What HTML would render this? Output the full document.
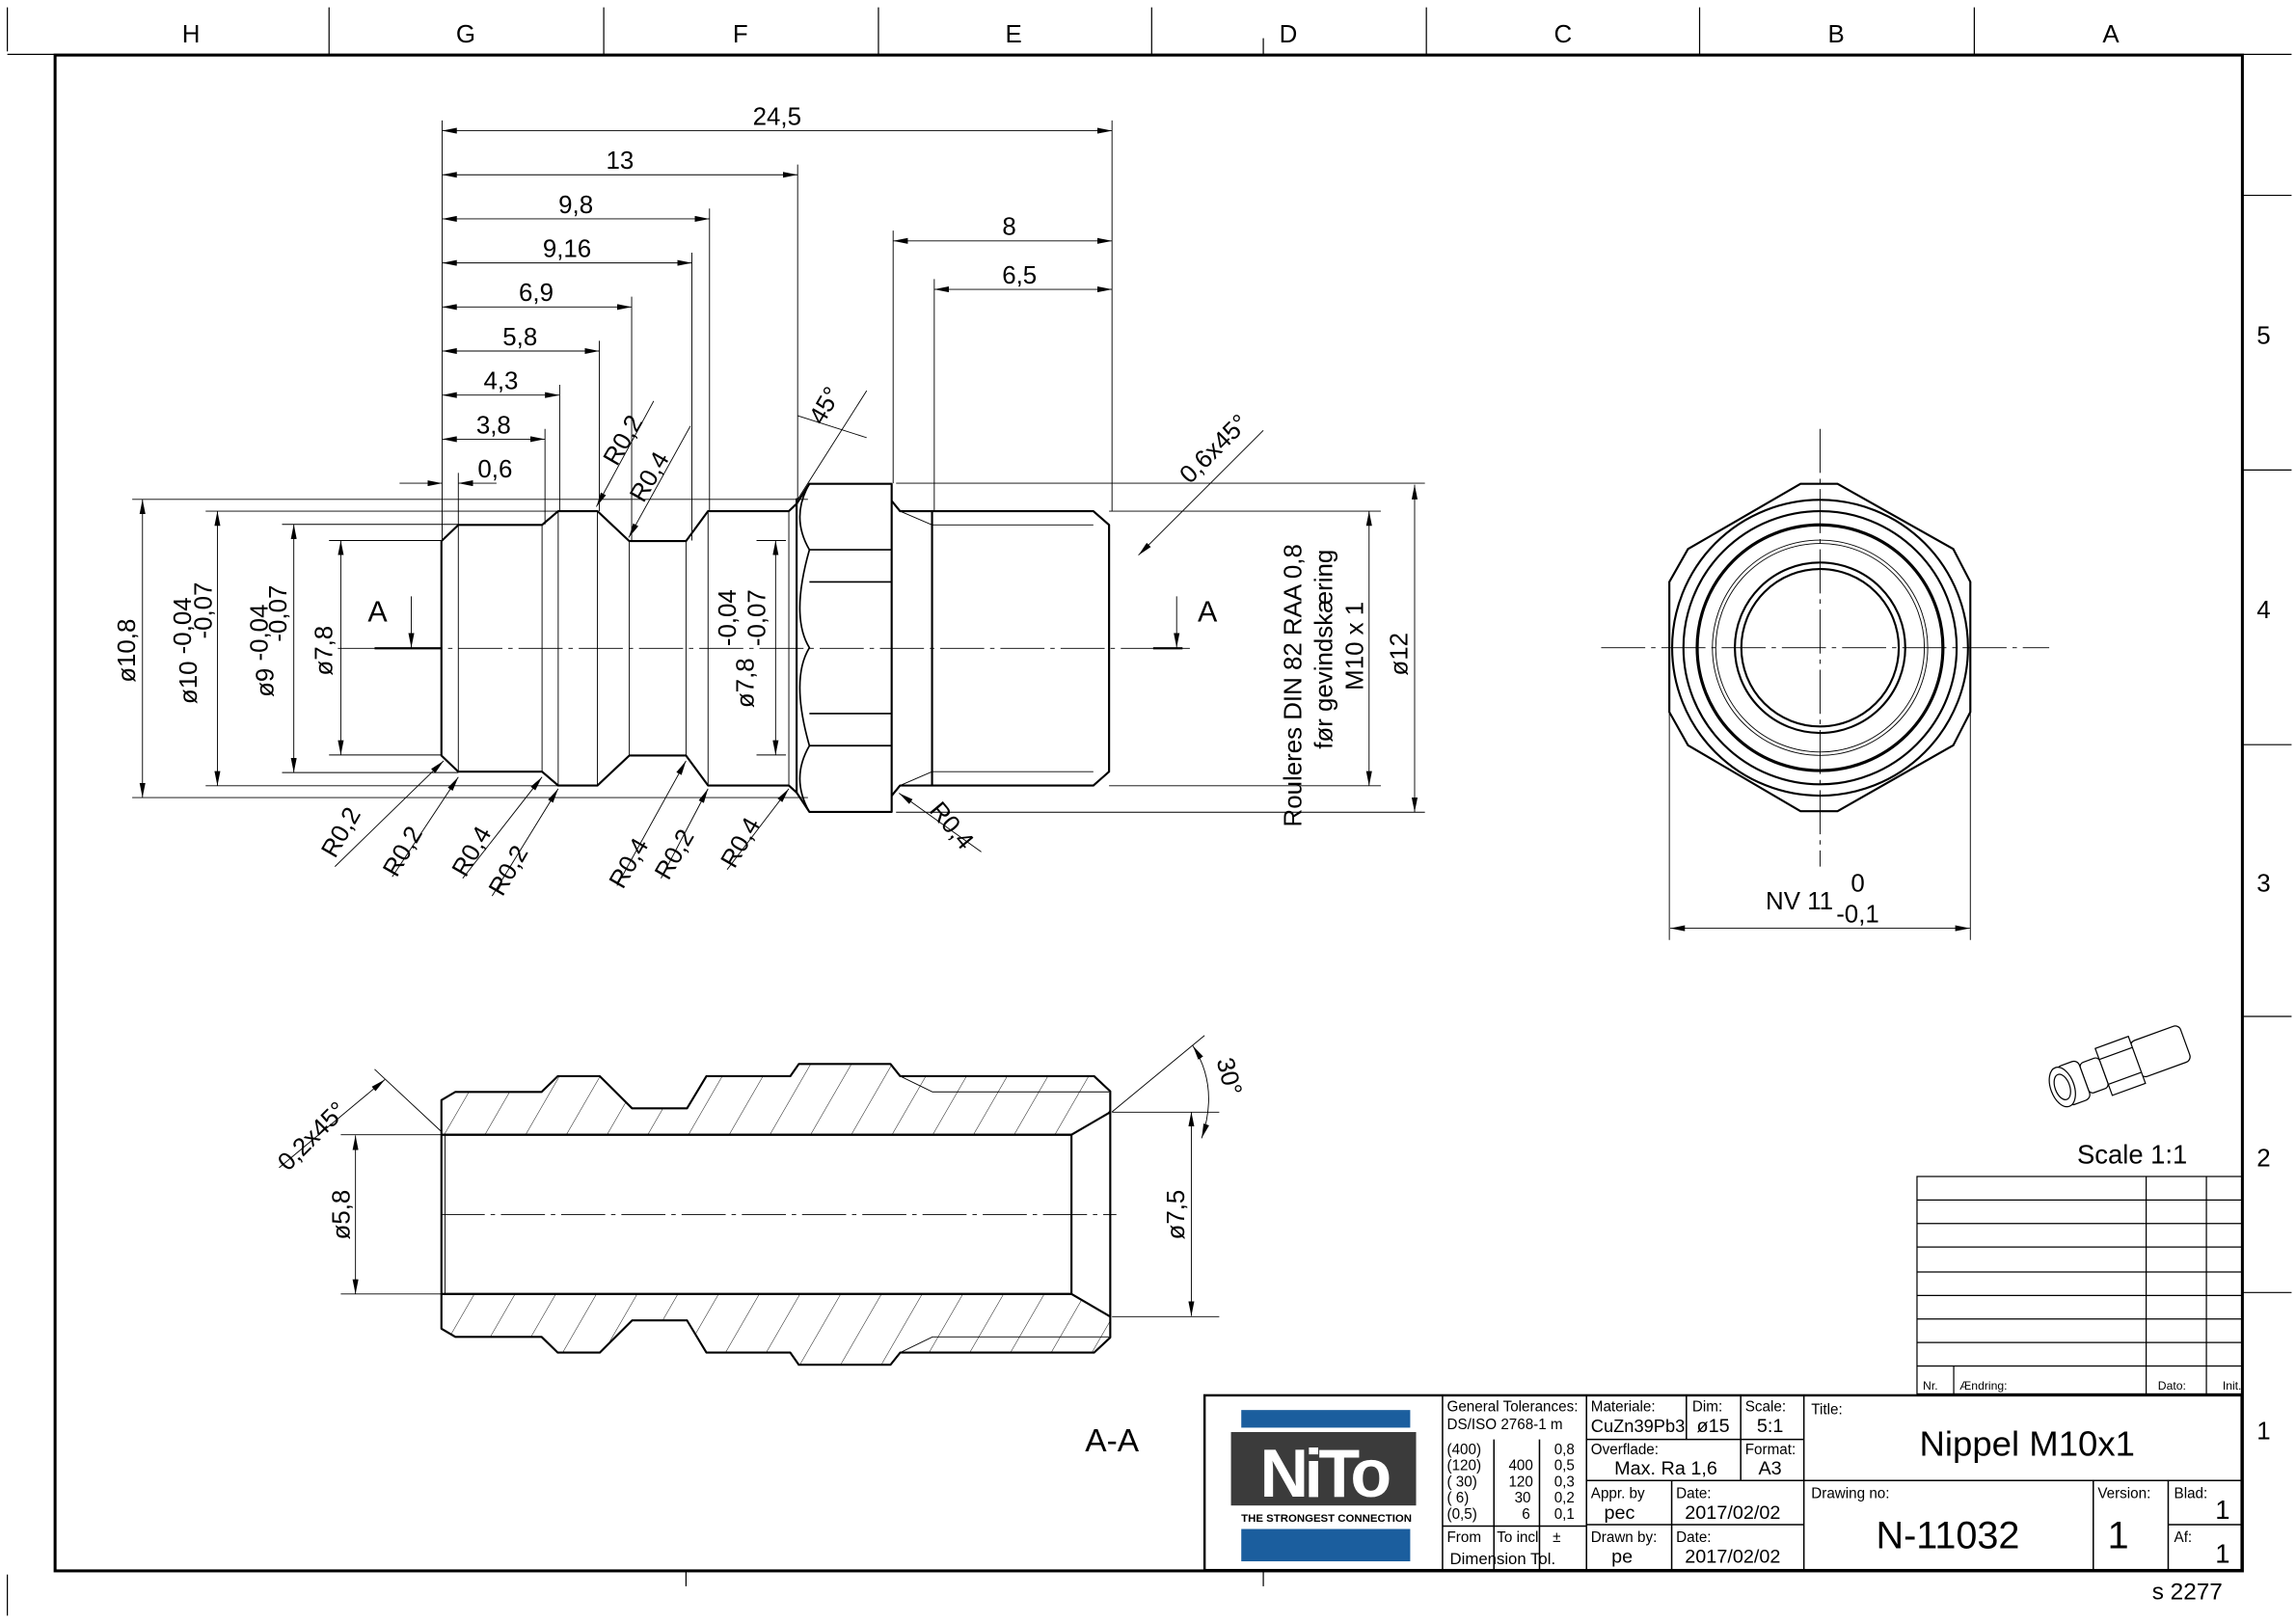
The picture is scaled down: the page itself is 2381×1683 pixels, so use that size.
<!DOCTYPE html>
<html><head><meta charset="utf-8"><style>
html,body{margin:0;padding:0;background:#fff;}
svg{display:block;}
text{font-family:"Liberation Sans",sans-serif;fill:#000;font-weight:normal;}
</style></head><body>
<svg width="2381" height="1683" viewBox="0 0 1563 1105" preserveAspectRatio="none" xmlns="http://www.w3.org/2000/svg">
<defs>
<marker id="a" viewBox="0 0 10 4" refX="10" refY="2" markerWidth="10" markerHeight="4" markerUnits="userSpaceOnUse" orient="auto-start-reverse"><path d="M0,0L10,2L0,4Z" fill="#000"/></marker>
<pattern id="h" patternUnits="userSpaceOnUse" width="24" height="24" patternTransform="rotate(30)"><line x1="0" y1="0" x2="0" y2="24" stroke="#000" stroke-width="0.6"/></pattern>
</defs>
<rect width="1563" height="1105" fill="#fff"/>
<g stroke="#000" fill="none">
<rect x="37.5" y="37.5" width="1489" height="1032" stroke-width="2"/>
<line x1="5" y1="37" x2="1560" y2="37" stroke-width="0.8"/>
<line x1="5" y1="5" x2="5" y2="35" stroke-width="0.8"/>
<line x1="5" y1="1072" x2="5" y2="1100" stroke-width="0.8"/>
<g stroke-width="0.8">
<line x1="224" y1="5" x2="224" y2="37"/><line x1="411" y1="5" x2="411" y2="37"/><line x1="598" y1="5" x2="598" y2="37"/><line x1="784" y1="5" x2="784" y2="37"/><line x1="971" y1="5" x2="971" y2="37"/><line x1="1157" y1="5" x2="1157" y2="37"/><line x1="1344" y1="5" x2="1344" y2="37"/>
<line x1="860" y1="26" x2="860" y2="37"/>
<line x1="1527" y1="133" x2="1560" y2="133"/><line x1="1527" y1="320" x2="1560" y2="320"/><line x1="1527" y1="507" x2="1560" y2="507"/><line x1="1527" y1="692" x2="1560" y2="692"/><line x1="1527" y1="880" x2="1560" y2="880"/>
<line x1="467" y1="1070" x2="467" y2="1080"/><line x1="860" y1="1070" x2="860" y2="1080"/>
</g></g>
<g font-size="17">
<text x="130" y="29" text-anchor="middle">H</text><text x="317" y="29" text-anchor="middle">G</text><text x="504" y="29" text-anchor="middle">F</text><text x="690" y="29" text-anchor="middle">E</text><text x="877" y="29" text-anchor="middle">D</text><text x="1064" y="29" text-anchor="middle">C</text><text x="1250" y="29" text-anchor="middle">B</text><text x="1437" y="29" text-anchor="middle">A</text>
<text x="1541" y="234" text-anchor="middle">5</text><text x="1541" y="421" text-anchor="middle">4</text><text x="1541" y="607" text-anchor="middle">3</text><text x="1541" y="794" text-anchor="middle">2</text><text x="1541" y="980" text-anchor="middle">1</text>
<text x="1465" y="1089" font-size="16" fill="#555">s 2277</text>
</g>

<g stroke="#000" fill="none" stroke-width="1.4" stroke-linejoin="round">
<path d="M300.5,368.4 L312,357.4 L369,357.4 L380,348 L406.7,348 L428.4,368.4 L467,368.4 L482,348 L537,348 L542.3,343 L542.3,339.8 L542.3,539.6 L537,534.8 L482,534.8 L467,514.4 L428.4,514.4 L406.7,534.8 L380,534.8 L369,525.4 L312,525.4 L300.5,514.4 Z"/>
<path d="M542.3,343 L551,329.4 L607,329.4 L607,552.8 L551,552.8 L542.3,539.6"/>
<path d="M551,329.4 Q538,352 551,374.3 Q538,420 551,441 Q538,462 551,507.7 Q538,530 551,552.8" stroke-width="1.1"/>
<path d="M551,374.3H607M551,396.2H607M551,485.8H607M551,507.7H607" stroke-width="1.1"/>
<path d="M607,341 L612.7,348 L744.3,348 L755,357.4 L755,525.4 L744.3,534.8 L612.7,534.8 L607,541.8"/>
<path d="M634.5,348V534.8"/>
</g>
<g stroke="#000" fill="none" stroke-width="0.6">
<path d="M312,357.4V525.4M369,357.4V525.4M380,348V534.8M406.7,348V534.8M428.4,368.4V514.4M467,368.4V514.4M482,348V534.8M537,348V534.8"/>
<path d="M612.7,348L634.5,357.4H744.3M612.7,534.8L634.5,525.4H744.3"/>
<path d="M255,441.4H300" stroke-width="1.5"/>
<path d="M785,441.4H805" stroke-width="1.5"/>
<path d="M230,441.4H810" stroke-dasharray="30,4,3,4"/>
<g marker-start="url(#a)" marker-end="url(#a)">
<line x1="301" y1="89" x2="757" y2="89"/><line x1="301" y1="119" x2="543" y2="119"/><line x1="301" y1="149" x2="483" y2="149"/><line x1="301" y1="179" x2="471" y2="179"/><line x1="301" y1="209" x2="430" y2="209"/><line x1="301" y1="239" x2="408" y2="239"/><line x1="301" y1="269" x2="381" y2="269"/><line x1="301" y1="299" x2="371" y2="299"/>
<line x1="608" y1="164" x2="757" y2="164"/><line x1="636" y1="197" x2="757" y2="197"/>
<line x1="97" y1="340" x2="97" y2="543"/><line x1="148" y1="348" x2="148" y2="535"/><line x1="200" y1="357" x2="200" y2="526"/><line x1="232" y1="368" x2="232" y2="514"/><line x1="528" y1="368" x2="528" y2="514"/><line x1="932" y1="348" x2="932" y2="535"/><line x1="963" y1="330" x2="963" y2="553"/>
</g>
<line x1="272" y1="329" x2="301" y2="329" marker-end="url(#a)"/><line x1="338" y1="329" x2="312" y2="329" marker-end="url(#a)"/>
<line x1="280" y1="406" x2="280" y2="441" marker-end="url(#a)"/><line x1="801" y1="406" x2="801" y2="441" marker-end="url(#a)"/>
<path d="M301,82V368M757,82V348M543,112V340M483,142V348M471,172V368M430,202V368M408,232V348M381,262V348M371,292V357M312,322V357M608,157V329M636,190V348"/>
<path d="M90,340H550M140,348H380M192,357H312M224,368H300M90,543H550M140,535H380M192,526H312M224,514H300M515,368H535M515,514H535M610,329H970M755,348H940M755,535H940M610,553H970"/>
<path d="M543,283L590,298M543,340L590,266" />
<line x1="775" y1="378" x2="860" y2="293" marker-start="url(#a)"/>
<line x1="406" y1="345" x2="445" y2="273" marker-start="url(#a)"/><line x1="428" y1="366" x2="470" y2="290" marker-start="url(#a)"/>
<line x1="302" y1="518" x2="228" y2="590" marker-start="url(#a)"/>
<line x1="312" y1="529" x2="267" y2="597" marker-start="url(#a)"/>
<line x1="369" y1="529" x2="315" y2="598" marker-start="url(#a)"/>
<line x1="380" y1="537" x2="335" y2="610" marker-start="url(#a)"/>
<line x1="467" y1="518" x2="420" y2="603" marker-start="url(#a)"/>
<line x1="482" y1="537" x2="450" y2="598" marker-start="url(#a)"/>
<line x1="537" y1="537" x2="495" y2="592" marker-start="url(#a)"/>
<line x1="612" y1="540" x2="668" y2="580" marker-start="url(#a)"/>
</g>
<g font-size="17">
<text x="529" y="85" text-anchor="middle">24,5</text><text x="422" y="115" text-anchor="middle">13</text><text x="392" y="145" text-anchor="middle">9,8</text><text x="386" y="175" text-anchor="middle">9,16</text><text x="365" y="205" text-anchor="middle">6,9</text><text x="354" y="235" text-anchor="middle">5,8</text><text x="341" y="265" text-anchor="middle">4,3</text><text x="336" y="295" text-anchor="middle">3,8</text><text x="337" y="325" text-anchor="middle">0,6</text>
<text x="687" y="160" text-anchor="middle">8</text><text x="694" y="193" text-anchor="middle">6,5</text>
<text x="257" y="423" font-size="20" text-anchor="middle">A</text><text x="822" y="423" font-size="20" text-anchor="middle">A</text>
<text transform="translate(92,443) rotate(-90)" text-anchor="middle">ø10,8</text>
<text transform="translate(134,443) rotate(-90)" text-anchor="middle">ø10 <tspan dy="-4">-0,04</tspan></text>
<text transform="translate(144,443) rotate(-90)" text-anchor="start" dx="8">-0,07</text>
<text transform="translate(186,443) rotate(-90)" text-anchor="middle">ø9 <tspan dy="-4">-0,04</tspan></text>
<text transform="translate(195,443) rotate(-90)" text-anchor="start" dx="6">-0,07</text>
<text transform="translate(226,443) rotate(-90)" text-anchor="middle">ø7,8</text>
<text transform="translate(513,465) rotate(-90)" text-anchor="middle">ø7,8</text>
<text transform="translate(501,440) rotate(-90)">-0,04</text>
<text transform="translate(521,440) rotate(-90)">-0,07</text>
<text transform="translate(886,563) rotate(-90)">Rouleres DIN 82 RAA 0,8</text>
<text transform="translate(907,510) rotate(-90)">før gevindskæring</text>
<text transform="translate(928,470) rotate(-90)">M10 x 1</text>
<text transform="translate(958,460) rotate(-90)">ø12</text>
<text transform="translate(560,290) rotate(-60)">45°</text>
<text transform="translate(810,330) rotate(-45)">0,6x45°</text>
<text transform="translate(420,318) rotate(-60)">R0,2</text>
<text transform="translate(438,343) rotate(-60)">R0,4</text>
<text transform="translate(228,585) rotate(-60)">R0,2</text>
<text transform="translate(270,598) rotate(-60)">R0,2</text>
<text transform="translate(317,598) rotate(-60)">R0,4</text>
<text transform="translate(342,611) rotate(-60)">R0,2</text>
<text transform="translate(424,606) rotate(-60)">R0,4</text>
<text transform="translate(455,600) rotate(-60)">R0,2</text>
<text transform="translate(500,592) rotate(-60)">R0,4</text>
<text transform="translate(632,552) rotate(50)">R0,4</text>
</g>

<g stroke="#000" fill="none" stroke-width="1.4">
<path d="M1136.4,396.2 L1149.1,373.8 L1225.7,329.4 L1250.9,329.4 L1329.7,373.8 L1341.3,396.2 L1341.3,484.8 L1329.7,507.4 L1250.9,552.3 L1225.7,552.3 L1149.1,507.4 L1136.4,484.8 Z"/>
<circle cx="1239" cy="441" r="100.7"/>
<circle cx="1239" cy="441" r="93"/>
<circle cx="1239" cy="441" r="84"/><circle cx="1239" cy="441" r="83" stroke-width="0.8"/>
<circle cx="1239" cy="441" r="73.3" stroke-width="0.6"/><circle cx="1239" cy="441" r="71" stroke-width="0.6"/>
<circle cx="1239" cy="441" r="58"/><circle cx="1239" cy="441" r="53.6"/>
</g>
<g stroke="#000" fill="none" stroke-width="0.6">
<path d="M1090,441H1395M1239,292V590" stroke-dasharray="30,4,3,4"/>
<path d="M1136.4,485V640M1341.3,485V640"/>
<line x1="1137" y1="632" x2="1341" y2="632" marker-start="url(#a)" marker-end="url(#a)"/>
</g>
<g font-size="17"><text x="1202" y="619">NV 11</text><text x="1260" y="607">0</text><text x="1250" y="628">-0,1</text></g>

<g stroke="#000" stroke-width="1.4" stroke-linejoin="round">
<path fill="url(#h)" d="M300.5,772.6 L300.5,749 L310,743.4 L368.7,743.4 L379.7,732.7 L408.3,732.7 L430.3,754.6 L467.7,754.6 L480.9,732.7 L538,732.7 L543.8,724.4 L606.2,724.4 L612.8,732.7 L744.8,732.7 L755.8,743 L755.8,757.2 L729.4,772.6 Z"/>
<path fill="url(#h)" d="M300.5,881 L300.5,904.6 L310,910.2 L368.7,910.2 L379.7,920.9 L408.3,920.9 L430.3,899 L467.7,899 L480.9,920.9 L538,920.9 L543.8,929.2 L606.2,929.2 L612.8,920.9 L744.8,920.9 L755.8,910.6 L755.8,896.4 L729.4,881 Z"/>
<path fill="none" d="M300.5,772.6H729.4V881H300.5ZM755.8,757.2V896.4"/>
</g>
<g stroke="#000" fill="none" stroke-width="0.6">
<path d="M303,772.6V881M612.8,732.7L634.8,743.4H755M612.8,920.9L634.8,910.2H755"/>
<path d="M300,827H760" stroke-dasharray="30,4,3,4"/>
<path d="M232,772.6H300M232,881H300M757,757.2H830M757,896.4H830M300,770L255,728M757,757L820,705"/>
<line x1="242" y1="773" x2="242" y2="881" marker-start="url(#a)" marker-end="url(#a)"/>
<line x1="811" y1="757" x2="811" y2="896" marker-start="url(#a)" marker-end="url(#a)"/>
<line x1="190" y1="795" x2="262" y2="735" marker-end="url(#a)"/>
<path d="M812,712 Q830,740 818,775" marker-start="url(#a)" marker-end="url(#a)"/>
</g>
<g font-size="17">
<text transform="translate(238,827) rotate(-90)" text-anchor="middle">ø5,8</text>
<text transform="translate(806,827) rotate(-90)" text-anchor="middle">ø7,5</text>
<text transform="translate(196,798) rotate(-45)">0,2x45°</text>
<text transform="translate(828,722) rotate(75)">30°</text>
<text x="757" y="988" font-size="22" text-anchor="middle">A-A</text>
</g>

<!-- 3D thumbnail -->
<g stroke="#000" fill="#fff" stroke-width="0.8" transform="rotate(-20 1440 728)">
<rect x="1455" y="714" width="36" height="26" rx="4"/>
<rect x="1432" y="710" width="24" height="34"/>
<path d="M1432,718H1456M1432,736H1456"/>
<rect x="1418" y="716" width="14" height="22" rx="3"/>
<rect x="1402" y="713" width="16" height="28" rx="4"/>
<ellipse cx="1402" cy="727" rx="8" ry="14"/>
<ellipse cx="1402" cy="727" rx="5" ry="9"/>
</g>
<text x="1414" y="792" font-size="18" fill="#222">Scale 1:1</text>

<g stroke="#000" fill="none" stroke-width="0.8">
<rect x="1305" y="801" width="221" height="148"/>
<path d="M1305,817H1526M1305,833H1526M1305,849H1526M1305,866H1526M1305,882H1526M1305,898H1526M1305,914H1526M1305,930H1526"/>
<path d="M1461,801V949M1502,801V949M1330,930V949"/>
</g>
<g font-size="8"><text x="1309" y="946">Nr.</text><text x="1334" y="946">Ændring:</text><text x="1469" y="946">Dato:</text><text x="1513" y="946">Init.</text></g>

<g stroke="#000" fill="none" stroke-width="1">
<rect x="820" y="950" width="706" height="119" stroke-width="1.6"/>
<path d="M982,950V1069M1080,950V1069M1228,950V1069M1148,950V980M1185,950V1008M1080,980H1228M1080,1008H1526M1080,1038H1228M1138,1008V1069M982,1039H1080M1017,980V1069M1048,980V1069M1425,1008V1069M1476,1008V1069M1476,1038H1526"/>
</g>
<rect x="845" y="960" width="115" height="12" fill="#1b5e9e"/>
<rect x="838" y="975" width="126" height="50" fill="#3b3b3b"/>
<text x="901" y="1019" font-size="46" text-anchor="middle" style="fill:#fff;font-weight:bold;letter-spacing:-3px">NiTo</text>
<text x="903" y="1036" font-size="7.5" text-anchor="middle" style="font-weight:bold">THE STRONGEST CONNECTION</text>
<rect x="845" y="1041" width="115" height="22" fill="#1b5e9e"/>
<g font-size="10" fill="#222">
<text x="985" y="961">General Tolerances:</text><text x="985" y="973">DS/ISO 2768-1 m</text>
<text x="1083" y="961">Materiale:</text><text x="1083" y="975" font-size="12">CuZn39Pb3</text>
<text x="1152" y="961">Dim:</text><text x="1155" y="975" font-size="13">ø15</text>
<text x="1188" y="961">Scale:</text><text x="1196" y="975" font-size="13">5:1</text>
<text x="1233" y="963">Title:</text>
<text x="1083" y="990">Overflade:</text><text x="1099" y="1004" font-size="13">Max. Ra 1,6</text>
<text x="1188" y="990">Format:</text><text x="1197" y="1004" font-size="13">A3</text>
<text x="985" y="990">(400)</text><text x="985" y="1001">(120)</text><text x="985" y="1012">( 30)</text><text x="985" y="1023">( 6)</text><text x="985" y="1034">(0,5)</text>
<text x="1027" y="1001">400</text><text x="1027" y="1012">120</text><text x="1031" y="1023">30</text><text x="1036" y="1034">6</text>
<text x="1058" y="990">0,8</text><text x="1058" y="1001">0,5</text><text x="1058" y="1012">0,3</text><text x="1058" y="1023">0,2</text><text x="1058" y="1034">0,1</text>
<text x="985" y="1050">From</text><text x="1019" y="1050">To incl</text><text x="1057" y="1050">±</text>
<text x="987" y="1065" font-size="11">Dimension   Tol.</text>
<text x="1083" y="1020">Appr. by</text><text x="1092" y="1034" font-size="13">pec</text>
<text x="1141" y="1020">Date:</text><text x="1147" y="1034" font-size="13">2017/02/02</text>
<text x="1083" y="1050">Drawn by:</text><text x="1097" y="1064" font-size="13">pe</text>
<text x="1141" y="1050">Date:</text><text x="1147" y="1064" font-size="13">2017/02/02</text>
<text x="1233" y="1020">Drawing no:</text>
<text x="1428" y="1020">Version:</text>
<text x="1480" y="1020">Blad:</text><text x="1480" y="1050">Af:</text>
</g>
<text x="1380" y="991" font-size="24" text-anchor="middle">Nippel M10x1</text>
<text x="1326" y="1054" font-size="26" text-anchor="middle">N-11032</text>
<text x="1442" y="1054" font-size="26" text-anchor="middle">1</text>
<text x="1513" y="1034" font-size="18" text-anchor="middle">1</text>
<text x="1513" y="1064" font-size="18" text-anchor="middle">1</text>
</svg>
</body></html>
